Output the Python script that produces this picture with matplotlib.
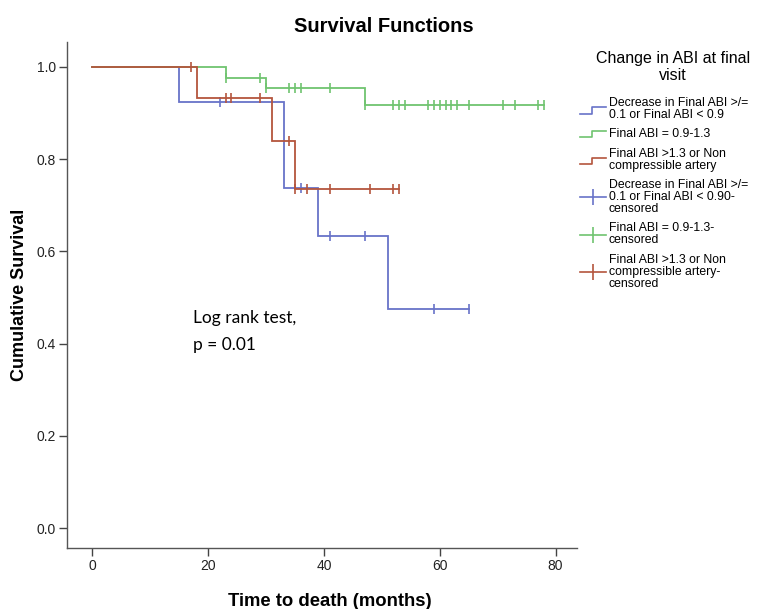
import numpy as np
import matplotlib
matplotlib.use("Agg")
import matplotlib.pyplot as plt
from matplotlib.lines import Line2D
from matplotlib.legend_handler import HandlerBase, HandlerLine2D

plt.rcParams['font.family'] = ['Liberation Sans', 'DejaVu Sans']

# ---- data ----
blue_event_t = [0, 15, 33, 39, 51]
blue_surv = [1.0, 0.923, 0.738, 0.633, 0.476]
blue_cens = [22, 36, 41, 47, 59, 65]

green_event_t = [0, 23, 30, 47]
green_surv = [1.0, 0.977, 0.954, 0.918]
green_cens = [23, 29, 30, 34, 35, 36, 41, 47, 52, 53, 54, 58, 59, 60, 61, 62,
              63, 65, 71, 73, 77, 78]

red_event_t = [0, 18, 31, 35]
red_surv = [1.0, 0.933, 0.84, 0.735]
red_cens = [17, 23, 24, 29, 34, 35, 37, 41, 48, 52, 53]

series_labels = ["Decrease in Final ABI >/=\n0.1 or Final ABI < 0.9",
                 "Final ABI = 0.9-1.3",
                 "Final ABI >1.3 or Non\ncompressible artery"]
censor_labels = ["Decrease in Final ABI >/=\n0.1 or Final ABI < 0.90-\ncensored",
                 "Final ABI = 0.9-1.3-\ncensored",
                 "Final ABI >1.3 or Non\ncompressible artery-\ncensored"]
legend_title = ["Change in ABI at final", "visit"]
x_ticks = [0, 20, 40, 60, 80]
y_ticks = [0.0, 0.2, 0.4, 0.6, 0.8, 1.0]

BLUE = '#6873c8'
GREEN = '#6fc46f'
RED = '#b4553d'

fig = plt.figure(figsize=(7.63, 6.09), dpi=100)
ax = fig.add_axes([67/763, 1-548/609, (577-67)/763, (548-42)/609])

def km(ax, ts, ss, cens, color):
    end = max(max(cens), ts[-1])
    xs = list(ts) + [end]
    ys = list(ss) + [ss[-1]]
    ax.step(xs, ys, where='post', color=color, lw=1.3, solid_joinstyle='miter')
    cy = [ss[np.searchsorted(ts, c, side='right') - 1] for c in cens]
    ax.plot(cens, cy, ls='none', marker='|', ms=6.5, mew=1.2, color=color)

km(ax, blue_event_t, blue_surv, blue_cens, BLUE)
km(ax, green_event_t, green_surv, green_cens, GREEN)
km(ax, red_event_t, red_surv, red_cens, RED)

ax.set_xlim(-4.4, 83.7)
ax.set_ylim(-0.043, 1.054)
ax.set_xticks(x_ticks)
ax.set_yticks(y_ticks)
ax.set_yticklabels([f"{v:.1f}" for v in y_ticks])
for s in ['top', 'right']:
    ax.spines[s].set_visible(False)
for s in ['left', 'bottom']:
    ax.spines[s].set_color('#555555')
    ax.spines[s].set_linewidth(1.0)
ax.tick_params(axis='both', direction='out', length=6, width=1.0,
               color='#444444', labelsize=10, labelcolor='#222222', pad=2)

ax.set_xlabel("Time to death (months)", fontsize=13.3, fontweight='bold',
              labelpad=14, x=(330 - 67) / 510)
ax.set_ylabel("Cumulative Survival", fontsize=13, fontweight='bold', labelpad=6)
fig.text(384/763, 1-27/609, "Survival Functions", fontsize=14.5, fontweight='bold',
         ha='center', va='center')

ax.text(17.3, 0.455, "Log rank test,", fontsize=12.5, family=['Lato', 'DejaVu Sans'],
        ha='left', va='center')
ax.text(17.3, 0.397, "p = 0.01", fontsize=12.5, family=['Lato', 'DejaVu Sans'],
        ha='left', va='center')

# legend title (two centred lines)
fig.text(673/763, 1-58/609, legend_title[0], fontsize=11.5, ha='center', va='center')
fig.text(673/763, 1-75/609, legend_title[1], fontsize=11.5, ha='center', va='center')


class StepHandler(HandlerBase):
    def create_artists(self, legend, orig_handle, xdescent, ydescent,
                       width, height, fontsize, trans):
        x0, y0 = -xdescent, -ydescent
        xm = x0 + width * 0.45
        xs = [x0, xm, xm, x0 + width]
        ys = [y0 + height * 0.0, y0 + height * 0.0, y0 + height * 0.75, y0 + height * 0.75]
        ln = Line2D(xs, ys, color=orig_handle.get_color(), lw=1.2, transform=trans)
        return [ln]


step_handles = [Line2D([], [], color=c) for c in (BLUE, GREEN, RED)]
cens_handles = [Line2D([], [], color=c, lw=1.2, marker='|', ms=12, mew=1.2)
                for c in (BLUE, GREEN, RED)]
handler_map = {h: StepHandler() for h in step_handles}
for h in cens_handles:
    handler_map[h] = HandlerLine2D(numpoints=1)

leg = fig.legend(step_handles + cens_handles, series_labels + censor_labels,
                 handler_map=handler_map, loc='upper left',
                 bbox_to_anchor=(580/763, 1-97/609), frameon=False,
                 prop={'size': 8.8},
                 handlelength=2.15, handletextpad=0.2,
                 labelspacing=0.6, borderpad=0.0, borderaxespad=0)
for t in leg.get_texts():
    t.set_linespacing(1.0)

fig.savefig("out.png", dpi=100)
